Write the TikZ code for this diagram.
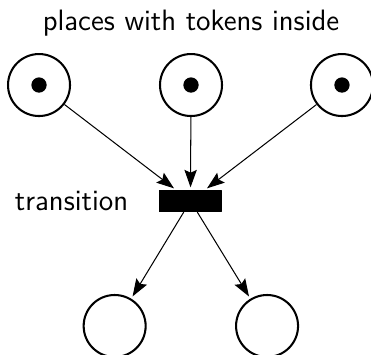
\documentclass[tikz,border=0pt]{standalone}
\usetikzlibrary{arrows.meta}

\begin{document}
\begin{tikzpicture}[
  line join=round,
  place/.style={circle,draw,thick,minimum size=8.5mm,inner sep=0pt},
  token/.style={circle,fill,inner sep=0pt,minimum size=2.1mm},
  transitionbox/.style={rectangle,draw,fill,thin,minimum width=8.5mm,minimum height=2.9mm,inner sep=0pt},
  arc/.style={draw,thin,-{Stealth[length=2.4mm,width=1.7mm,inset=0.4mm]},shorten >=1pt},
  label/.style={font=\sffamily\fontsize{11.5}{14}\selectfont}
]
  \useasboundingbox (-2.612,-2.111) rectangle (2.475,2.756);

  \node[transitionbox] (T) at (0,0) {};

  \node[place] (P1) at (-2.077,1.59) {};
  \node[place] (P2) at (0.007,1.59) {};
  \node[place] (P3) at (2.077,1.59) {};

  \node[place] (P4) at (-1.04,-1.714) {};
  \node[place] (P5) at (1.05,-1.714) {};

  \foreach \p in {P1,P2,P3} {
    \node[token] at (\p) {};
  }

  \draw[arc] (P1) -- (T);
  \draw[arc] (P2) -- (T);
  \draw[arc] (P3) -- (T);
  \draw[arc] (T) -- (P4);
  \draw[arc] (T) -- (P5);

  \node[label] (title) at (0.007,2.44) {places with tokens inside};
  \node[label,left=0.3cm] (tlabel) at (T.west) {transition};
\end{tikzpicture}
\end{document}
